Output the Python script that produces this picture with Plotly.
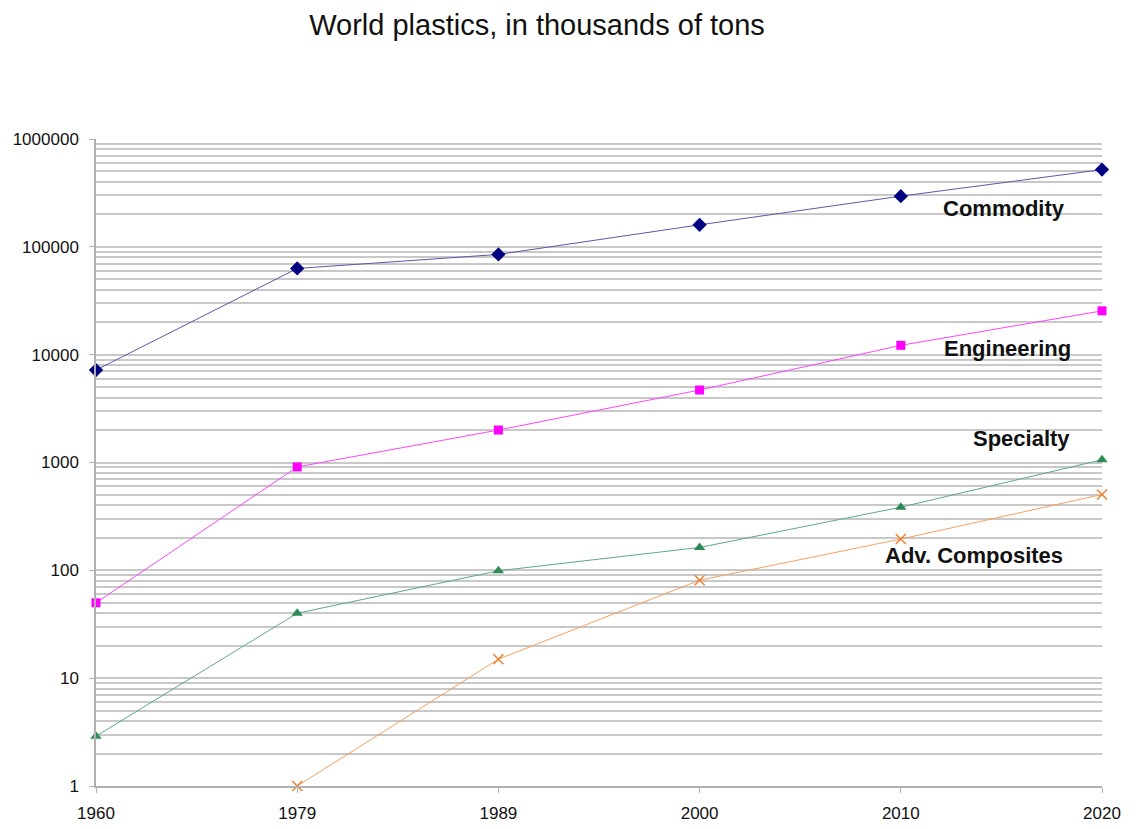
import plotly.graph_objects as go
import math

years = ["1960", "1979", "1989", "2000", "2010", "2020"]
commodity = [7200, 63000, 85000, 160000, 295000, 520000]
engineering = [50, 910, 2000, 4700, 12200, 25500]
specialty = [2.9, 40, 99, 163, 385, 1060]
adv_years = ["1979", "1989", "2000", "2010", "2020"]
adv_composites = [1, 15, 81, 195, 505]

y_tick_vals = [1, 10, 100, 1000, 10000, 100000, 1000000]
y_tick_text = ["1", "10", "100", "1000", "10000", "100000", "1000000"]

series_labels = ["Commodity", "Engineering", "Specialty", "Adv. Composites"]

minor_vals = [m * 10 ** d for d in range(0, 6) for m in range(2, 10)]

fig = go.Figure()
fig.add_trace(go.Scatter(x=years, y=commodity, mode="lines+markers", name=series_labels[0],
                         line=dict(color="#5a5aa8", width=1),
                         marker=dict(symbol="diamond", size=11, color="#000080"),
                         cliponaxis=False))
fig.add_trace(go.Scatter(x=years, y=engineering, mode="lines+markers", name=series_labels[1],
                         line=dict(color="#ff44ff", width=1),
                         marker=dict(symbol="square", size=9, color="#ff00ff"),
                         cliponaxis=False))
fig.add_trace(go.Scatter(x=years, y=specialty, mode="lines+markers", name=series_labels[2],
                         line=dict(color="#5fa88a", width=1),
                         marker=dict(symbol="triangle-up", size=10, color="#2e8b57"),
                         cliponaxis=False))
fig.add_trace(go.Scatter(x=adv_years, y=adv_composites, mode="lines+markers", name=series_labels[3],
                         line=dict(color="#f4a060", width=1),
                         marker=dict(symbol="x-thin", size=10, color="#f08030",
                                     line=dict(color="#f08030", width=1.5)),
                         cliponaxis=False))

label_pos = [(0.903, 225000), (0.906, 11300), (0.920, 1670), (0.873, 138)]
for text, (px, vy) in zip(series_labels, label_pos):
    fig.add_annotation(x=px, xref="paper", xanchor="center", y=math.log10(vy), yref="y",
                       yanchor="middle", text="<b>" + text + "</b>",
                       showarrow=False, font=dict(family="Liberation Sans, Arial", size=22, color="#111111"))

fig.update_layout(
    width=1128, height=821,
    paper_bgcolor="white", plot_bgcolor="white",
    showlegend=False,
    margin=dict(l=88, r=34, t=131, b=43),
    title=dict(text="World plastics, in thousands of tons", x=0.469, xanchor="center",
               y=0.979, yanchor="middle",
               font=dict(family="Liberation Sans, Arial", size=29, color="#111111")),
    font=dict(family="Liberation Sans, Arial", size=16, color="#111111"),
)
fig.update_xaxes(type="category", range=[0, 5], showgrid=False, showline=True,
                 linecolor="#b0b0b0", linewidth=1.5, ticks="outside", ticklen=5,
                 tickcolor="#b0b0b0", tickfont=dict(size=17), ticklabelstandoff=6,
                 zeroline=False, automargin=False)
fig.update_yaxes(type="log", range=[0, 6], tickvals=y_tick_vals, ticktext=y_tick_text,
                 showgrid=True, gridcolor="#c8c8c8", gridwidth=1.5,
                 showline=True, linecolor="#b0b0b0", linewidth=1.5,
                 ticks="outside", ticklen=5, tickcolor="#b0b0b0", tickfont=dict(size=17),
                 ticklabelstandoff=7, automargin=False,
                 minor=dict(tickvals=minor_vals, showgrid=True, gridcolor="#c8c8c8",
                            gridwidth=1.5, ticks=""),
                 zeroline=False)

fig.write_html("out.html")
